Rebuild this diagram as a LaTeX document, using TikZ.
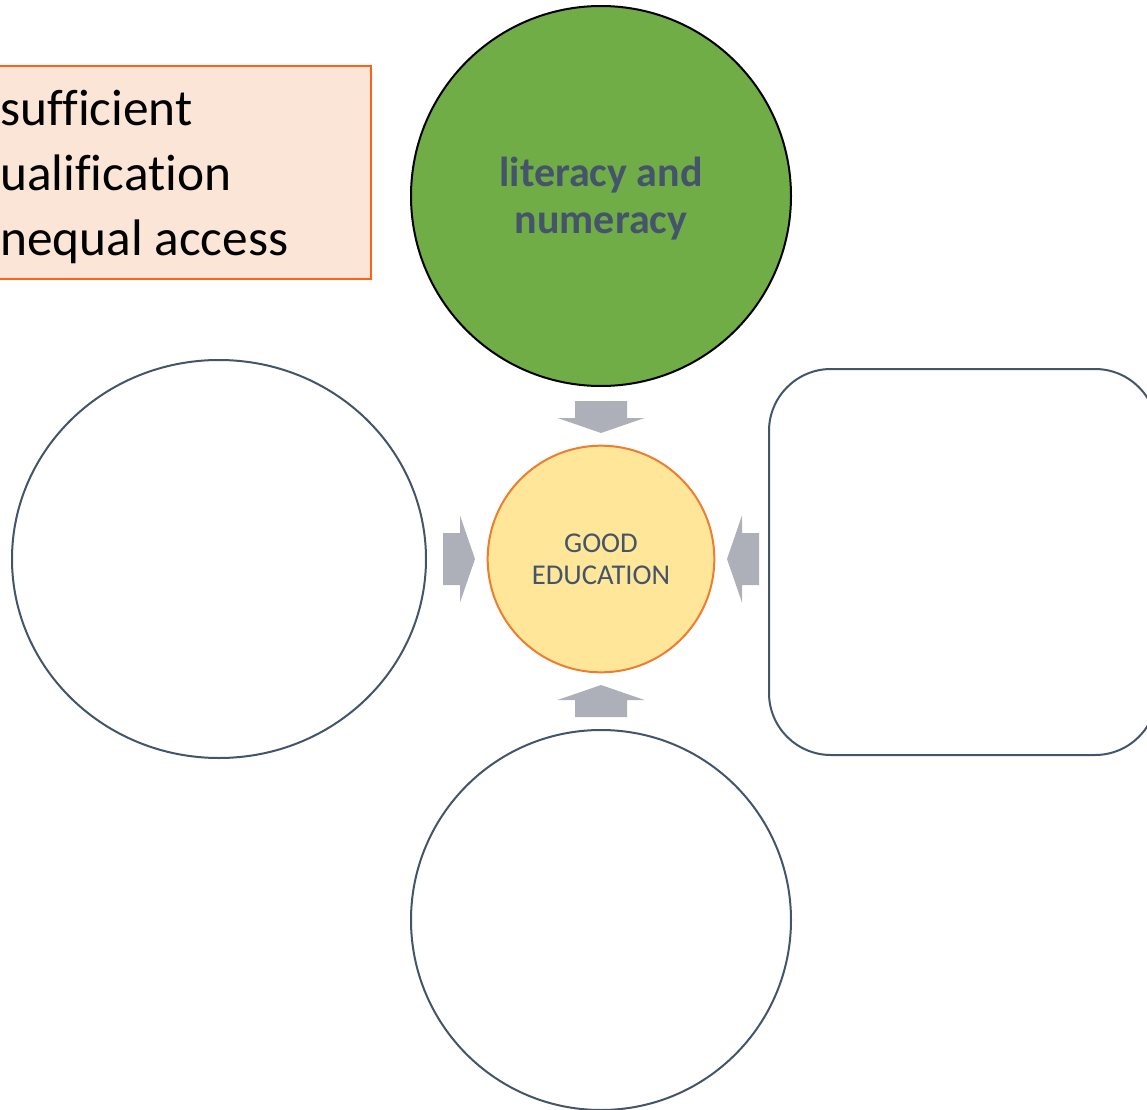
\documentclass[tikz,border=0pt]{standalone}
\usepackage{fontspec}
\setmainfont[RawFeature = {-liga;-clig;-calt;-dlig}]{Carlito}
\usetikzlibrary{shapes.geometric}
\definecolor{slate}{HTML}{44546A}
\definecolor{leaf}{HTML}{70AD47}
\definecolor{sun}{HTML}{FFE699}
\definecolor{rim}{HTML}{ED7D31}
\definecolor{peach}{HTML}{FBE5D6}
\definecolor{flame}{HTML}{FF6119}
\definecolor{feedgray}{HTML}{ADB0B8}

\begin{document}
\begin{tikzpicture}[
  x = 0.75pt, y = -0.75pt,
  bubble/.style = {circle, draw = slate, line width = 1.5pt, inner sep = 0pt, minimum size = #1},
  issuebox/.style = {draw = flame, fill = peach, line width = 1.5pt, inner sep = 0pt},
  feed/.style = {fill = feedgray},
  ]
  \clip (0,0) rectangle (1147,1110);

  % problems box, cut off at the left edge
  \node [issuebox, anchor = north east, minimum width = 300pt, minimum height = 159.75pt] (issues) at (372,65) {};
  \node [anchor = west, align = left, inner sep = 0pt, font = \fontsize{38.5}{48.75}\selectfont] (issuelist) at (0,177) {sufficient\\ualification\\nequal access};

  % the four bubbles round the centre
  \node [bubble = 285pt, draw = black, fill = leaf] (literacy) at (601,196) {};
  \node [text = slate, align = center, font = \fontsize{31.5}{35.25}\selectfont\bfseries] (literacytext) at (601,199) {literacy and\\numeracy};
  \node [ellipse, draw = slate, line width = 1.5pt, minimum width = 310.5pt, minimum height = 298.5pt] (westbubble) at (219,559) {};
  \node [bubble = 285pt] (southbubble) at (601,920) {};
  \node [draw = slate, line width = 1.5pt, rounded corners = 46.5pt, minimum width = 291pt, minimum height = 289.5pt] (eastbox) at (963,562) {};

  % centre
  \node [bubble = 170pt, draw = rim, fill = sun, text = slate, align = center,
         font = \fontsize{21.5}{24}\selectfont] (edu) at (601,559) {GOOD\\EDUCATION};

  % block arrows pointing in
  \foreach \turn in {0,90,180,270}
    \fill [feed, shift = {(edu.center)}, rotate = \turn]
      (0,-126) -- (43.5,-141) -- (26,-141) -- (26,-158) -- (-26,-158) -- (-26,-141) -- (-43.5,-141) -- cycle;
\end{tikzpicture}
\end{document}
